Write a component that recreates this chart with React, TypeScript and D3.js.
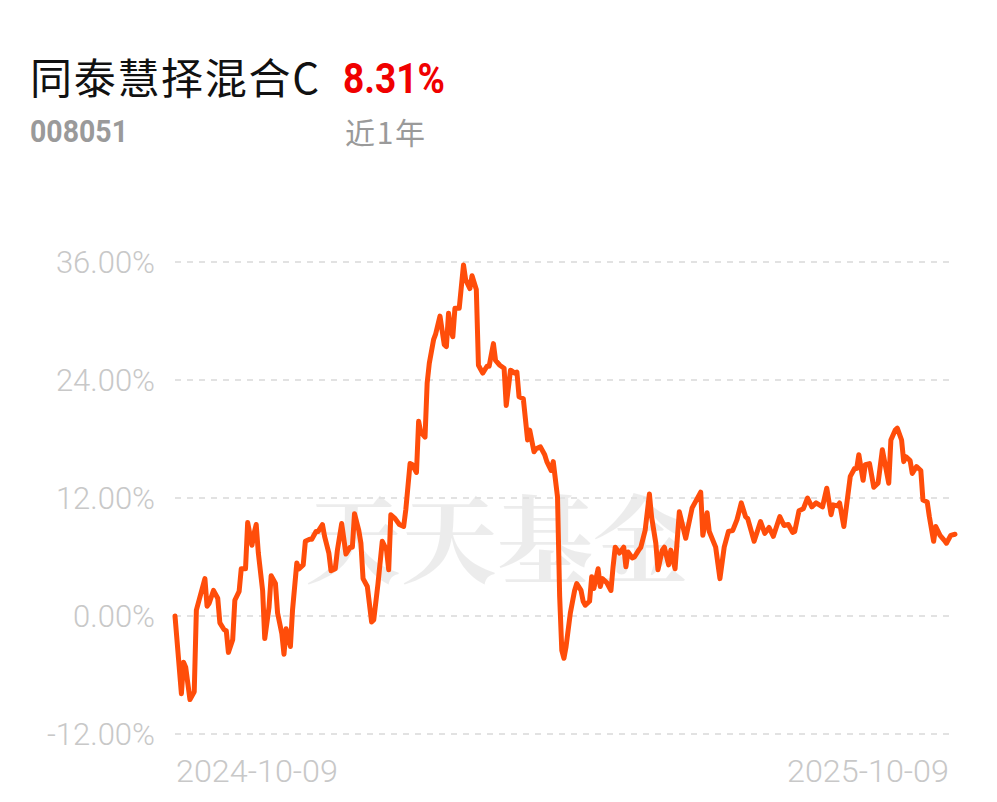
import React from "react";
import * as d3 from "d3";

const fundName = "同泰慧择混合C";
const fundCode = "008051";
const periodLabel = "近1年";
const periodReturn = "8.31%";

const yTicks = [36, 24, 12, 0, -12];
const xTickLabels = ["2024-10-09", "2025-10-09"];

// days since 2024-10-09
const days = [
  0, 3, 4, 5, 7, 9, 10, 14, 15, 16, 18, 20, 21, 23, 24, 25, 27, 28, 30, 31, 33, 34, 36, 37, 38, 39,
  41, 42, 44, 45, 47, 48, 50, 51, 52, 54, 55, 57, 58, 60, 61, 63, 64, 66, 67, 69, 70, 72, 73, 75,
  76, 78, 80, 82, 83, 84, 86, 87, 88, 90, 92, 93, 95, 97, 99, 100, 101, 103, 105, 107, 108, 110,
  111, 113, 114, 115, 117, 118, 119, 121, 122, 124, 126, 127, 128, 129, 130, 131, 133, 135, 136,
  138, 139, 141, 142, 144, 146, 147, 149, 150, 152, 154, 155, 157, 159, 160, 161, 163, 165, 166,
  168, 169, 171, 173, 174, 176, 177, 179, 180, 181, 182, 183, 185, 187, 188, 190, 191, 192, 194,
  195, 196, 198, 199, 200, 202, 204, 205, 206, 208, 210, 211, 212, 214, 215, 217, 218, 220, 222,
  223, 225, 226, 228, 229, 231, 232, 234, 236, 239, 242, 246, 247, 249, 250, 253, 255, 257, 259,
  261, 263, 265, 267, 268, 271, 274, 276, 278, 280, 283, 285, 287, 289, 290, 292, 294, 296, 298,
  300, 303, 305, 307, 308, 310, 311, 313, 314, 316, 318, 319, 320, 322, 323, 325, 327, 329, 331,
  334, 335, 337, 338, 340, 341, 342, 344, 345, 347, 349, 350, 352, 353, 355, 356, 358, 360, 361,
  363, 365,
];

const returns = [
  0.0, -7.9, -4.7, -5.2, -8.5, -7.7, 0.6, 3.8, 1.0, 1.3, 2.6, 1.8, -0.7, -1.4, -1.5, -3.7, -2.4,
  1.6, 2.5, 4.8, 4.8, 9.5, 7.2, 8.4, 9.3, 6.4, 2.6, -2.3, 0.9, 4.1, 3.3, 0.3, -1.8, -3.9, -1.3,
  -3.1, 0.6, 5.4, 4.8, 5.2, 7.6, 7.8, 7.8, 8.6, 8.6, 9.3, 8.1, 6.4, 4.6, 4.8, 6.7, 9.4, 6.3, 7.0,
  7.0, 10.4, 8.7, 7.4, 3.8, 3.0, -0.6, -0.4, 3.3, 7.6, 6.7, 4.7, 10.3, 9.9, 9.3, 9.1, 10.8, 15.5,
  15.4, 14.6, 19.8, 18.7, 18.2, 23.7, 25.7, 28.1, 28.7, 30.5, 27.6, 27.4, 30.8, 29.1, 28.4, 31.3,
  31.3, 35.7, 34.2, 33.3, 34.6, 33.2, 25.5, 24.7, 25.4, 25.4, 27.7, 26.0, 25.5, 25.2, 21.4, 25.0,
  24.7, 24.8, 22.3, 22.1, 17.9, 18.9, 16.7, 17.0, 17.2, 16.4, 15.7, 14.8, 15.7, 12.1, 2.0, -3.5,
  -4.3, -3.1, 0.3, 2.6, 3.3, 2.6, 1.5, 1.1, 1.5, 4.0, 2.8, 4.8, 3.0, 3.8, 3.4, 2.6, 5.0, 7.0, 6.4,
  7.0, 5.0, 6.5, 5.9, 6.0, 6.7, 7.0, 8.7, 12.4, 10.1, 7.4, 4.7, 6.7, 7.0, 5.2, 6.7, 4.8, 10.6, 7.9,
  11.0, 12.6, 8.2, 10.5, 8.6, 7.0, 3.8, 7.0, 8.6, 8.7, 9.8, 11.5, 10.1, 9.9, 7.6, 9.6, 8.4, 9.0,
  8.1, 10.1, 9.2, 9.3, 8.5, 8.6, 10.7, 10.9, 12.0, 11.1, 11.5, 11.1, 13.0, 10.3, 11.3, 11.2, 11.5,
  9.1, 10.8, 14.2, 15.0, 15.0, 16.4, 13.8, 15.4, 15.5, 13.1, 13.5, 16.9, 13.5, 17.9, 18.9, 19.1,
  17.9, 15.7, 16.2, 15.8, 14.5, 15.2, 14.8, 11.8, 11.6, 10.1, 7.6, 9.1, 8.2, 7.7, 7.4, 8.2, 8.31,
];

const W = 997;
const H = 802;
const plotLeft = 175;
const plotRight = 955;
const plotTop = 262;
const plotBottom = 734;

export default function App() {
  const x = d3.scaleLinear().domain([0, 365]).range([plotLeft, plotRight]);
  const y = d3.scaleLinear().domain([-12, 36]).range([plotBottom, plotTop]);
  const points: [number, number][] = days.map((d, i) => [d, returns[i]]);
  const line = d3
    .line<[number, number]>()
    .x((d) => x(d[0]))
    .y((d) => y(d[1]))
    .curve(d3.curveLinear);

  const axisFont = "Roboto, 'Noto Sans', sans-serif";

  return (
    <svg
      width={W}
      height={H}
      viewBox={`0 0 ${W} ${H}`}
      style={{ position: "fixed", left: 0, top: 0, display: "block", background: "#fff" }}
    >
      <rect x={0} y={0} width={W} height={H} fill="#fff" />
      <text
        x={30}
        y={94}
        fontFamily="'Noto Sans CJK SC', 'Noto Sans', sans-serif"
        fontSize={42}
        fill="#111"
        textLength={289}
        lengthAdjust="spacing"
      >
        {fundName}
      </text>
      <text
        x={343}
        y={93}
        fontFamily={axisFont}
        fontWeight={700}
        fontSize={42}
        fill="#f00000"
        textLength={102}
        lengthAdjust="spacingAndGlyphs"
      >
        {periodReturn}
      </text>
      <text
        x={30}
        y={142}
        fontFamily={axisFont}
        fontWeight={700}
        fontSize={31}
        fill="#9a9a9a"
        textLength={98}
        lengthAdjust="spacingAndGlyphs"
      >
        {fundCode}
      </text>
      <text
        x={345}
        y={144}
        fontFamily="'Noto Sans CJK SC', sans-serif"
        fontSize={30}
        fill="#9a9a9a"
        textLength={80}
        lengthAdjust="spacing"
      >
        {periodLabel}
      </text>

      <text
        x={497}
        y={575}
        textAnchor="middle"
        fontFamily="'Noto Serif CJK SC', 'Noto Sans CJK SC', sans-serif"
        fontWeight={700}
        fontSize={96}
        fill="#000"
        opacity={0.07}
      >
        天天基金
      </text>

      {yTicks.map((t) => (
        <g key={t}>
          <line
            x1={plotLeft}
            x2={plotRight}
            y1={y(t)}
            y2={y(t)}
            stroke="#e2e2e2"
            strokeWidth={2}
            strokeDasharray="6 6"
          />
          <text
            x={155}
            y={y(t)}
            textAnchor="end"
            dominantBaseline="central"
            fontFamily={axisFont}
            fontWeight={300}
            fontSize={31}
            fill="#c8c8c8"
          >
            {`${t.toFixed(2)}%`}
          </text>
        </g>
      ))}

      <text
        x={176}
        y={782}
        textAnchor="start"
        fontFamily={axisFont}
        fontWeight={300}
        fontSize={31}
        fill="#c8c8c8"
        textLength={162}
        lengthAdjust="spacingAndGlyphs"
      >
        {xTickLabels[0]}
      </text>
      <text
        x={787}
        y={782}
        textAnchor="start"
        fontFamily={axisFont}
        fontWeight={300}
        fontSize={31}
        fill="#c8c8c8"
        textLength={162}
        lengthAdjust="spacingAndGlyphs"
      >
        {xTickLabels[1]}
      </text>

      <path
        d={line(points) || ""}
        fill="none"
        stroke="#ff4d0a"
        strokeWidth={5}
        strokeLinejoin="round"
        strokeLinecap="round"
      />
    </svg>
  );
}
